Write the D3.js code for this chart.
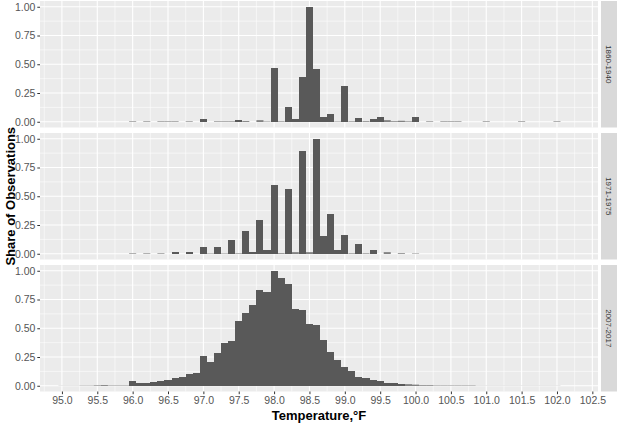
<!DOCTYPE html>
<html><head><meta charset="utf-8">
<script src="https://cdn.jsdelivr.net/npm/d3@7"></script>
<style>html,body{margin:0;padding:0;background:#fff}svg{display:block;font-family:"Liberation Sans",Arial,sans-serif}</style>
</head><body><svg id="c" width="617" height="423"></svg>
<script>
// ---- data ----
const panelLabels = ["1860-1940", "1971-1975", "2007-2017"];

const temps1860 = [96.0,96.2,96.4,96.5,96.6,96.8,97.0,97.2,97.3,97.4,97.5,97.6,97.8,97.9,98.0,98.1,98.2,98.3,98.4,98.5,98.6,98.7,98.8,98.9,99.0,99.1,99.2,99.3,99.4,99.5,99.6,99.7,99.8,99.9,100.0,100.2,100.4,100.5,100.6,101.0,101.5,102.0];
const share1860 = [0.004,0.004,0.004,0.004,0.004,0.004,0.023,0.004,0.004,0.004,0.015,0.006,0.012,0.003,0.47,0.004,0.13,0.025,0.385,1.0,0.455,0.04,0.065,0.003,0.31,0.004,0.03,0.005,0.02,0.045,0.012,0.005,0.008,0.004,0.04,0.004,0.004,0.004,0.004,0.004,0.004,0.004];

const temps1971 = [96.0,96.2,96.4,96.6,96.8,97.0,97.1,97.2,97.3,97.4,97.5,97.6,97.7,97.8,97.9,98.0,98.1,98.2,98.3,98.4,98.5,98.6,98.7,98.8,98.9,99.0,99.1,99.2,99.3,99.4,99.6,99.8,100.0];
const share1971 = [0.004,0.004,0.004,0.014,0.014,0.058,0.003,0.058,0.003,0.12,0.004,0.2,0.017,0.29,0.03,0.6,0.005,0.56,0.012,0.89,0.012,1.0,0.155,0.345,0.03,0.16,0.004,0.085,0.004,0.03,0.012,0.005,0.003];

const temps2007 = [95.0,95.1,95.2,95.3,95.4,95.5,95.6,95.7,95.8,95.9,
  96.0,96.1,96.2,96.3,96.4,96.5,96.6,96.7,96.8,96.9,
  97.0,97.1,97.2,97.3,97.4,97.5,97.6,97.7,97.8,97.9,
  98.0,98.1,98.2,98.3,98.4,98.5,98.6,98.7,98.8,98.9,
  99.0,99.1,99.2,99.3,99.4,99.5,99.6,99.7,99.8,99.9,
  100.0,100.1,100.2,100.3,100.4,100.5,100.6,100.7,100.8,100.9,
  101.0,101.1,101.2,101.3,101.4,101.5,101.6,101.7,101.8,101.9,102.0];
const share2007 = [0.001,0.001,0.001,0.002,0.002,0.004,0.006,0.003,0.003,0.003,
  0.038,0.020,0.026,0.032,0.045,0.052,0.068,0.080,0.100,0.113,
  0.260,0.210,0.285,0.370,0.390,0.565,0.635,0.700,0.830,0.815,
  1.000,0.935,0.885,0.670,0.660,0.540,0.530,0.400,0.290,0.220,
  0.165,0.125,0.080,0.064,0.052,0.038,0.026,0.020,0.015,0.012,
  0.009,0.005,0.005,0.003,0.003,0.003,0.003,0.003,0.003,0.001,
  0.001,0.001,0.001,0.001,0.001,0.001,0.001,0.001,0.001,0.001,0.001];

const xTicks = [95.0,95.5,96.0,96.5,97.0,97.5,98.0,98.5,99.0,99.5,100.0,100.5,101.0,101.5,102.0,102.5];
const yTicks = [0, 0.25, 0.5, 0.75, 1.0];
const binWidth = 0.1;

// ---- layout ----
const FONT = "'Liberation Sans', Arial, sans-serif";
const svg = d3.select("#c");
const L = 40, R = 598, stripX = 601, stripW = 17;
const panelH = 126.5, gap = 5.5, top0 = 1;
const x = d3.scaleLinear().domain([94.69, 102.58]).range([L, R]);

const series = [
  {t: temps1860, s: share1860},
  {t: temps1971, s: share1971},
  {t: temps2007, s: share2007}
];

const xMinor = [94.75].concat(xTicks.slice(0, -1).map((d, i) => (d + xTicks[i + 1]) / 2));
const yMinor = [0.125, 0.375, 0.625, 0.875];

series.forEach((sr, i) => {
  const pt = top0 + i * (panelH + gap), pb = pt + panelH;
  const y = d3.scaleLinear().domain([-0.05, 1.05]).range([pb, pt]);
  const g = svg.append("g");
  g.append("rect").attr("x", L).attr("y", pt).attr("width", R - L).attr("height", panelH).attr("fill", "#EBEBEB");
  // minor grid
  g.selectAll(".vm").data(xMinor.filter(d => x(d) > L && x(d) < R)).enter().append("line")
    .attr("x1", d => x(d)).attr("x2", d => x(d)).attr("y1", pt).attr("y2", pb)
    .attr("stroke", "#fff").attr("stroke-width", 0.55);
  g.selectAll(".hm").data(yMinor).enter().append("line")
    .attr("x1", L).attr("x2", R).attr("y1", d => y(d)).attr("y2", d => y(d))
    .attr("stroke", "#fff").attr("stroke-width", 0.55);
  // major grid
  g.selectAll(".vM").data(xTicks).enter().append("line")
    .attr("x1", d => x(d)).attr("x2", d => x(d)).attr("y1", pt).attr("y2", pb)
    .attr("stroke", "#fff").attr("stroke-width", 1.1);
  g.selectAll(".hM").data(yTicks).enter().append("line")
    .attr("x1", L).attr("x2", R).attr("y1", d => y(d)).attr("y2", d => y(d))
    .attr("stroke", "#fff").attr("stroke-width", 1.1);
  // bars
  const data = sr.t.map((t, k) => ({t, v: sr.s[k]}));
  g.selectAll(".bar").data(data).enter().append("rect")
    .attr("x", d => x(d.t - binWidth / 2))
    .attr("width", d => x(d.t + binWidth / 2) - x(d.t - binWidth / 2))
    .attr("y", d => y(d.v)).attr("height", d => y(0) - y(d.v))
    .attr("shape-rendering", d => (y(0) - y(d.v)) >= 1.5 ? "crispEdges" : "auto")
    .attr("fill", "#595959");
  // y axis
  const ya = svg.append("g").attr("transform", `translate(${L},0)`)
    .call(d3.axisLeft(y).tickValues(yTicks).tickFormat(d3.format(".2f")).tickSize(2.7).tickPadding(2));
  ya.select(".domain").remove();
  ya.selectAll("line").attr("stroke", "#333").attr("stroke-width", 1);
  ya.selectAll("text").attr("fill", "#555").style("font-size", "10.5px").style("font-family", FONT);
  // strip
  svg.append("rect").attr("x", stripX).attr("y", pt).attr("width", stripW).attr("height", panelH).attr("fill", "#D9D9D9");
  svg.append("text").attr("transform", `translate(${stripX + 8},${(pt + pb) / 2}) rotate(90)`)
    .attr("text-anchor", "middle").attr("dy", "0.35em")
    .attr("fill", "#333").style("font-size", "8px").style("font-family", FONT).text(panelLabels[i]);
  if (i === 2) {
    const xa = svg.append("g").attr("transform", `translate(0,${pb})`)
      .call(d3.axisBottom(x).tickValues(xTicks).tickFormat(d3.format(".1f")).tickSize(2.7).tickPadding(2.5));
    xa.select(".domain").remove();
    xa.selectAll("line").attr("stroke", "#333").attr("stroke-width", 1);
    xa.selectAll("text").attr("fill", "#555").style("font-size", "10.5px").style("font-family", FONT);
  }
});

// axis titles
svg.append("text").attr("x", (L + R) / 2).attr("y", 419.5).attr("text-anchor", "middle")
  .style("font-size", "13px").style("font-weight", "bold").style("font-family", FONT).attr("fill", "#000").text("Temperature,°F");
svg.append("text").attr("transform", `translate(14.5,${top0 + (3 * panelH + 2 * gap) / 2}) rotate(-90)`)
  .attr("text-anchor", "middle").style("font-size", "13px").style("font-weight", "bold").style("font-family", FONT).attr("fill", "#000")
  .text("Share of Observations");
</script></body></html>
